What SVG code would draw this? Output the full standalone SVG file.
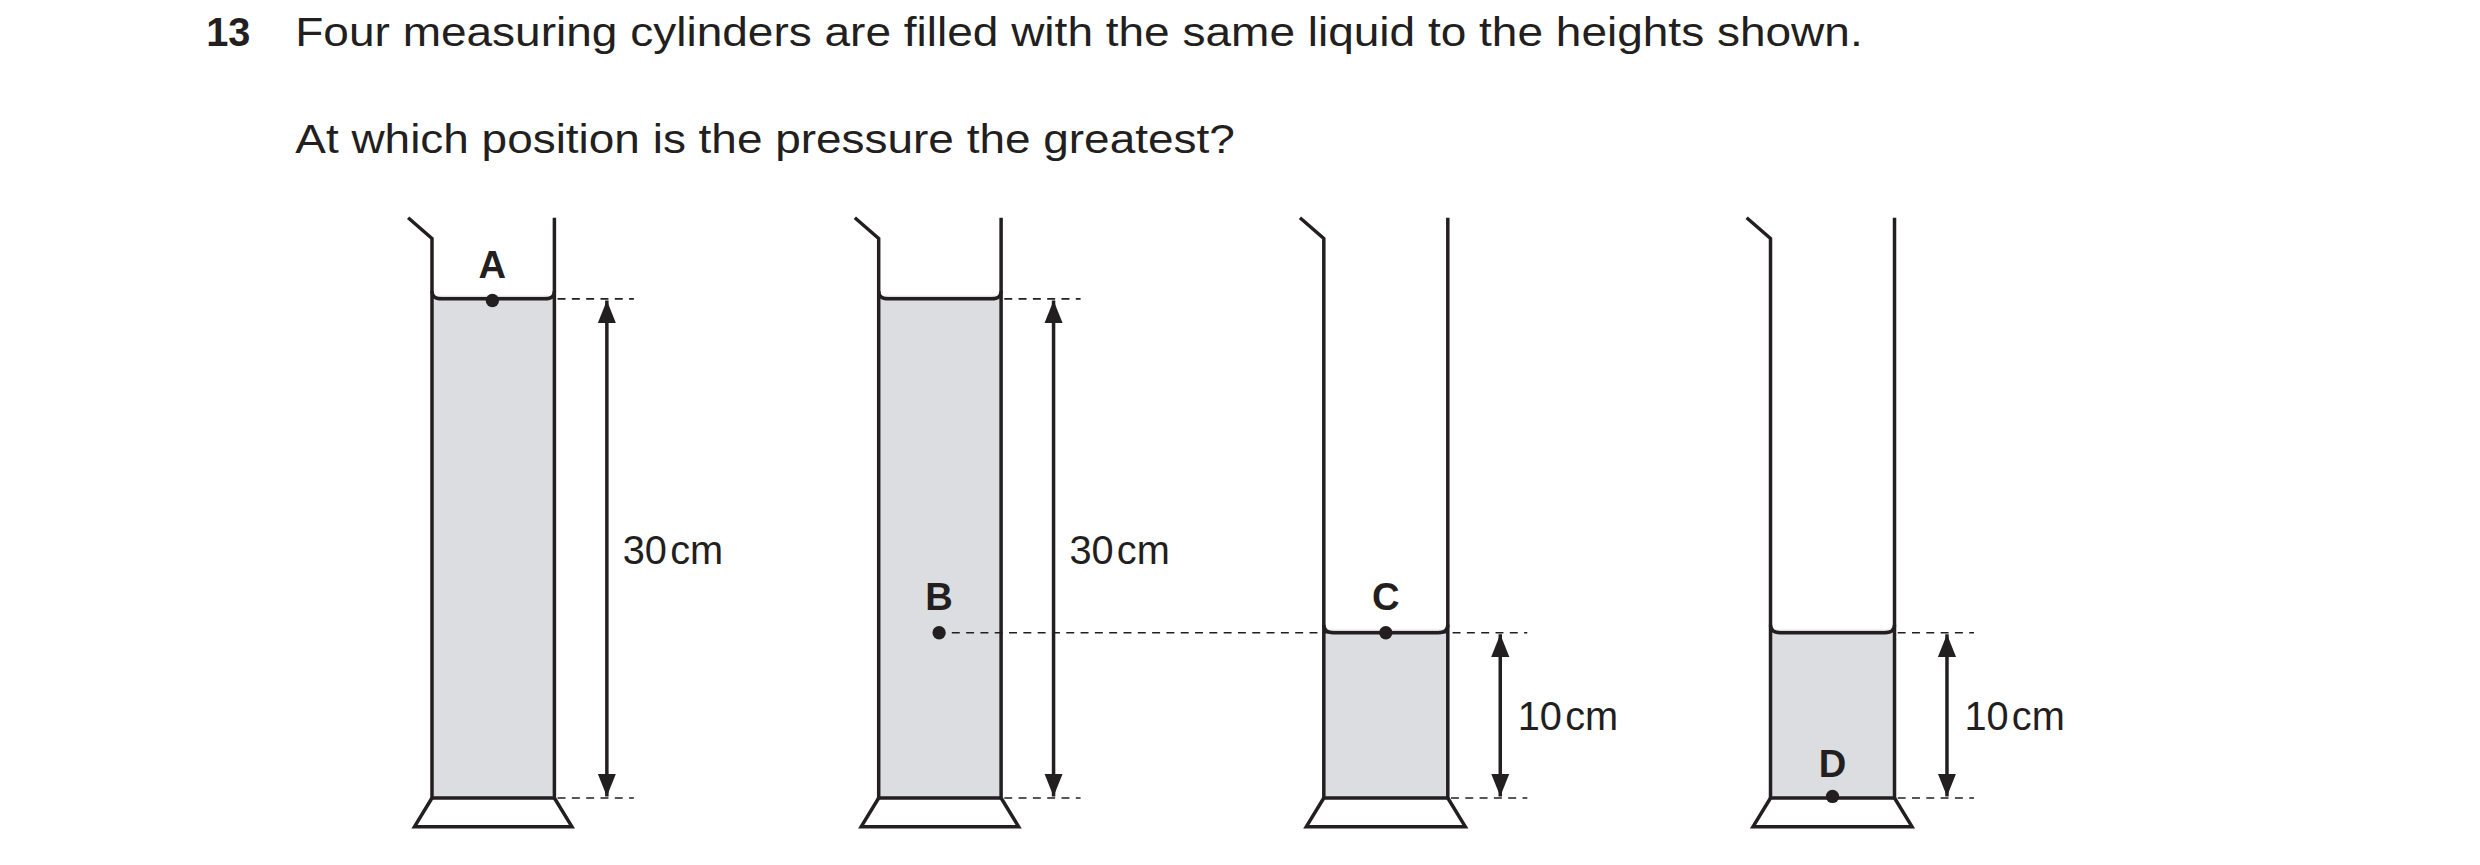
<svg xmlns="http://www.w3.org/2000/svg" width="2480" height="865" viewBox="0 0 2480 865">
<defs>
<style>
.w{fill:none;stroke:#231f20;stroke-width:2.2;stroke-linejoin:miter}
.liq{fill:#dcdde0;stroke:none}
.d{fill:none;stroke:#231f20;stroke-width:1;stroke-dasharray:5 4}
.ar{fill:none;stroke:#231f20;stroke-width:2.2;marker-start:url(#h);marker-end:url(#h)}
.t{font-family:"Liberation Sans",Arial,sans-serif;fill:#231f20}
.lab{font-family:"Liberation Sans",Arial,sans-serif;font-weight:bold;font-size:24px;fill:#231f20;text-anchor:middle}
.m{font-family:"Liberation Sans",Arial,sans-serif;font-size:25px;fill:#231f20}
</style>
<marker id="h" viewBox="0 0 10 10" refX="10" refY="5" markerWidth="6.5" markerHeight="6.5" orient="auto-start-reverse" markerUnits="strokeWidth"><path d="M0,1 L10,5 L0,9 Z" fill="#231f20"/></marker>
</defs>
<rect width="2480" height="865" fill="#fff"/>
<g transform="translate(-2,0) scale(1.5897)">
<text class="t" x="131" y="29" font-size="25" font-weight="bold">13</text>
<text class="t" x="187" y="29" font-size="25" textLength="986" lengthAdjust="spacingAndGlyphs">Four measuring cylinders are filled with the same liquid to the heights shown.</text>
<text class="t" x="187" y="96" font-size="25" textLength="591" lengthAdjust="spacingAndGlyphs">At which position is the pressure the greatest?</text>

<g id="cylinder-A">
<rect class="liq" x="273" y="186" width="77" height="316"/>
<path class="w" d="M258,137 L273,150 L273,502 L350,502 L350,137"/>
<path class="w" d="M273,502 L262,520 L361,520 L350,502"/>
<path class="w" d="M273,183 Q273,188 279,188 L344,188 Q350,188 350,183"/>
<circle cx="311" cy="189" r="4.2" fill="#231f20"/>
<text class="lab" x="311" y="175">A</text>
</g>
<g id="cylinder-B">
<rect class="liq" x="554" y="186" width="77" height="316"/>
<path class="w" d="M539,137 L554,150 L554,502 L631,502 L631,137"/>
<path class="w" d="M554,502 L543,520 L642,520 L631,502"/>
<path class="w" d="M554,183 Q554,188 560,188 L625,188 Q631,188 631,183"/>
<circle cx="592" cy="398" r="4.2" fill="#231f20"/>
<text class="lab" x="592" y="384">B</text>
</g>
<g id="cylinder-C">
<rect class="liq" x="834" y="396" width="78" height="106"/>
<path class="w" d="M819,137 L834,150 L834,502 L912,502 L912,137"/>
<path class="w" d="M834,502 L823,520 L923,520 L912,502"/>
<path class="w" d="M834,393 Q834,398 840,398 L906,398 Q912,398 912,393"/>
<circle cx="873" cy="398" r="4.2" fill="#231f20"/>
<text class="lab" x="873" y="384">C</text>
</g>
<g id="cylinder-D">
<rect class="liq" x="1115" y="396" width="78" height="106"/>
<path class="w" d="M1100,137 L1115,150 L1115,502 L1193,502 L1193,137"/>
<path class="w" d="M1115,502 L1104,520 L1204,520 L1193,502"/>
<path class="w" d="M1115,393 Q1115,398 1121,398 L1187,398 Q1193,398 1193,393"/>
<circle cx="1154" cy="501" r="4.2" fill="#231f20"/>
<text class="lab" x="1154" y="489">D</text>
</g>

<g id="connectors">
<line class="d" x1="352" y1="188" x2="400" y2="188"/>
<line class="d" x1="352" y1="502" x2="400" y2="502"/>
<line class="ar" x1="383" y1="189" x2="383" y2="501"/>
<line class="d" x1="633" y1="188" x2="681" y2="188"/>
<line class="d" x1="633" y1="502" x2="681" y2="502"/>
<line class="ar" x1="664" y1="189" x2="664" y2="501"/>
<line class="d" x1="600" y1="398" x2="962" y2="398"/>
<line class="d" x1="914" y1="502" x2="962" y2="502"/>
<line class="ar" x1="945" y1="399" x2="945" y2="501"/>
<line class="d" x1="1195" y1="398" x2="1243" y2="398"/>
<line class="d" x1="1195" y1="502" x2="1243" y2="502"/>
<line class="ar" x1="1226" y1="399" x2="1226" y2="501"/>
</g>
<text class="m" x="393" y="355">30<tspan dx="2">cm</tspan></text>
<text class="m" x="674" y="355">30<tspan dx="2">cm</tspan></text>
<text class="m" x="956" y="459">10<tspan dx="2">cm</tspan></text>
<text class="m" x="1237" y="459">10<tspan dx="2">cm</tspan></text>
</g>
</svg>
